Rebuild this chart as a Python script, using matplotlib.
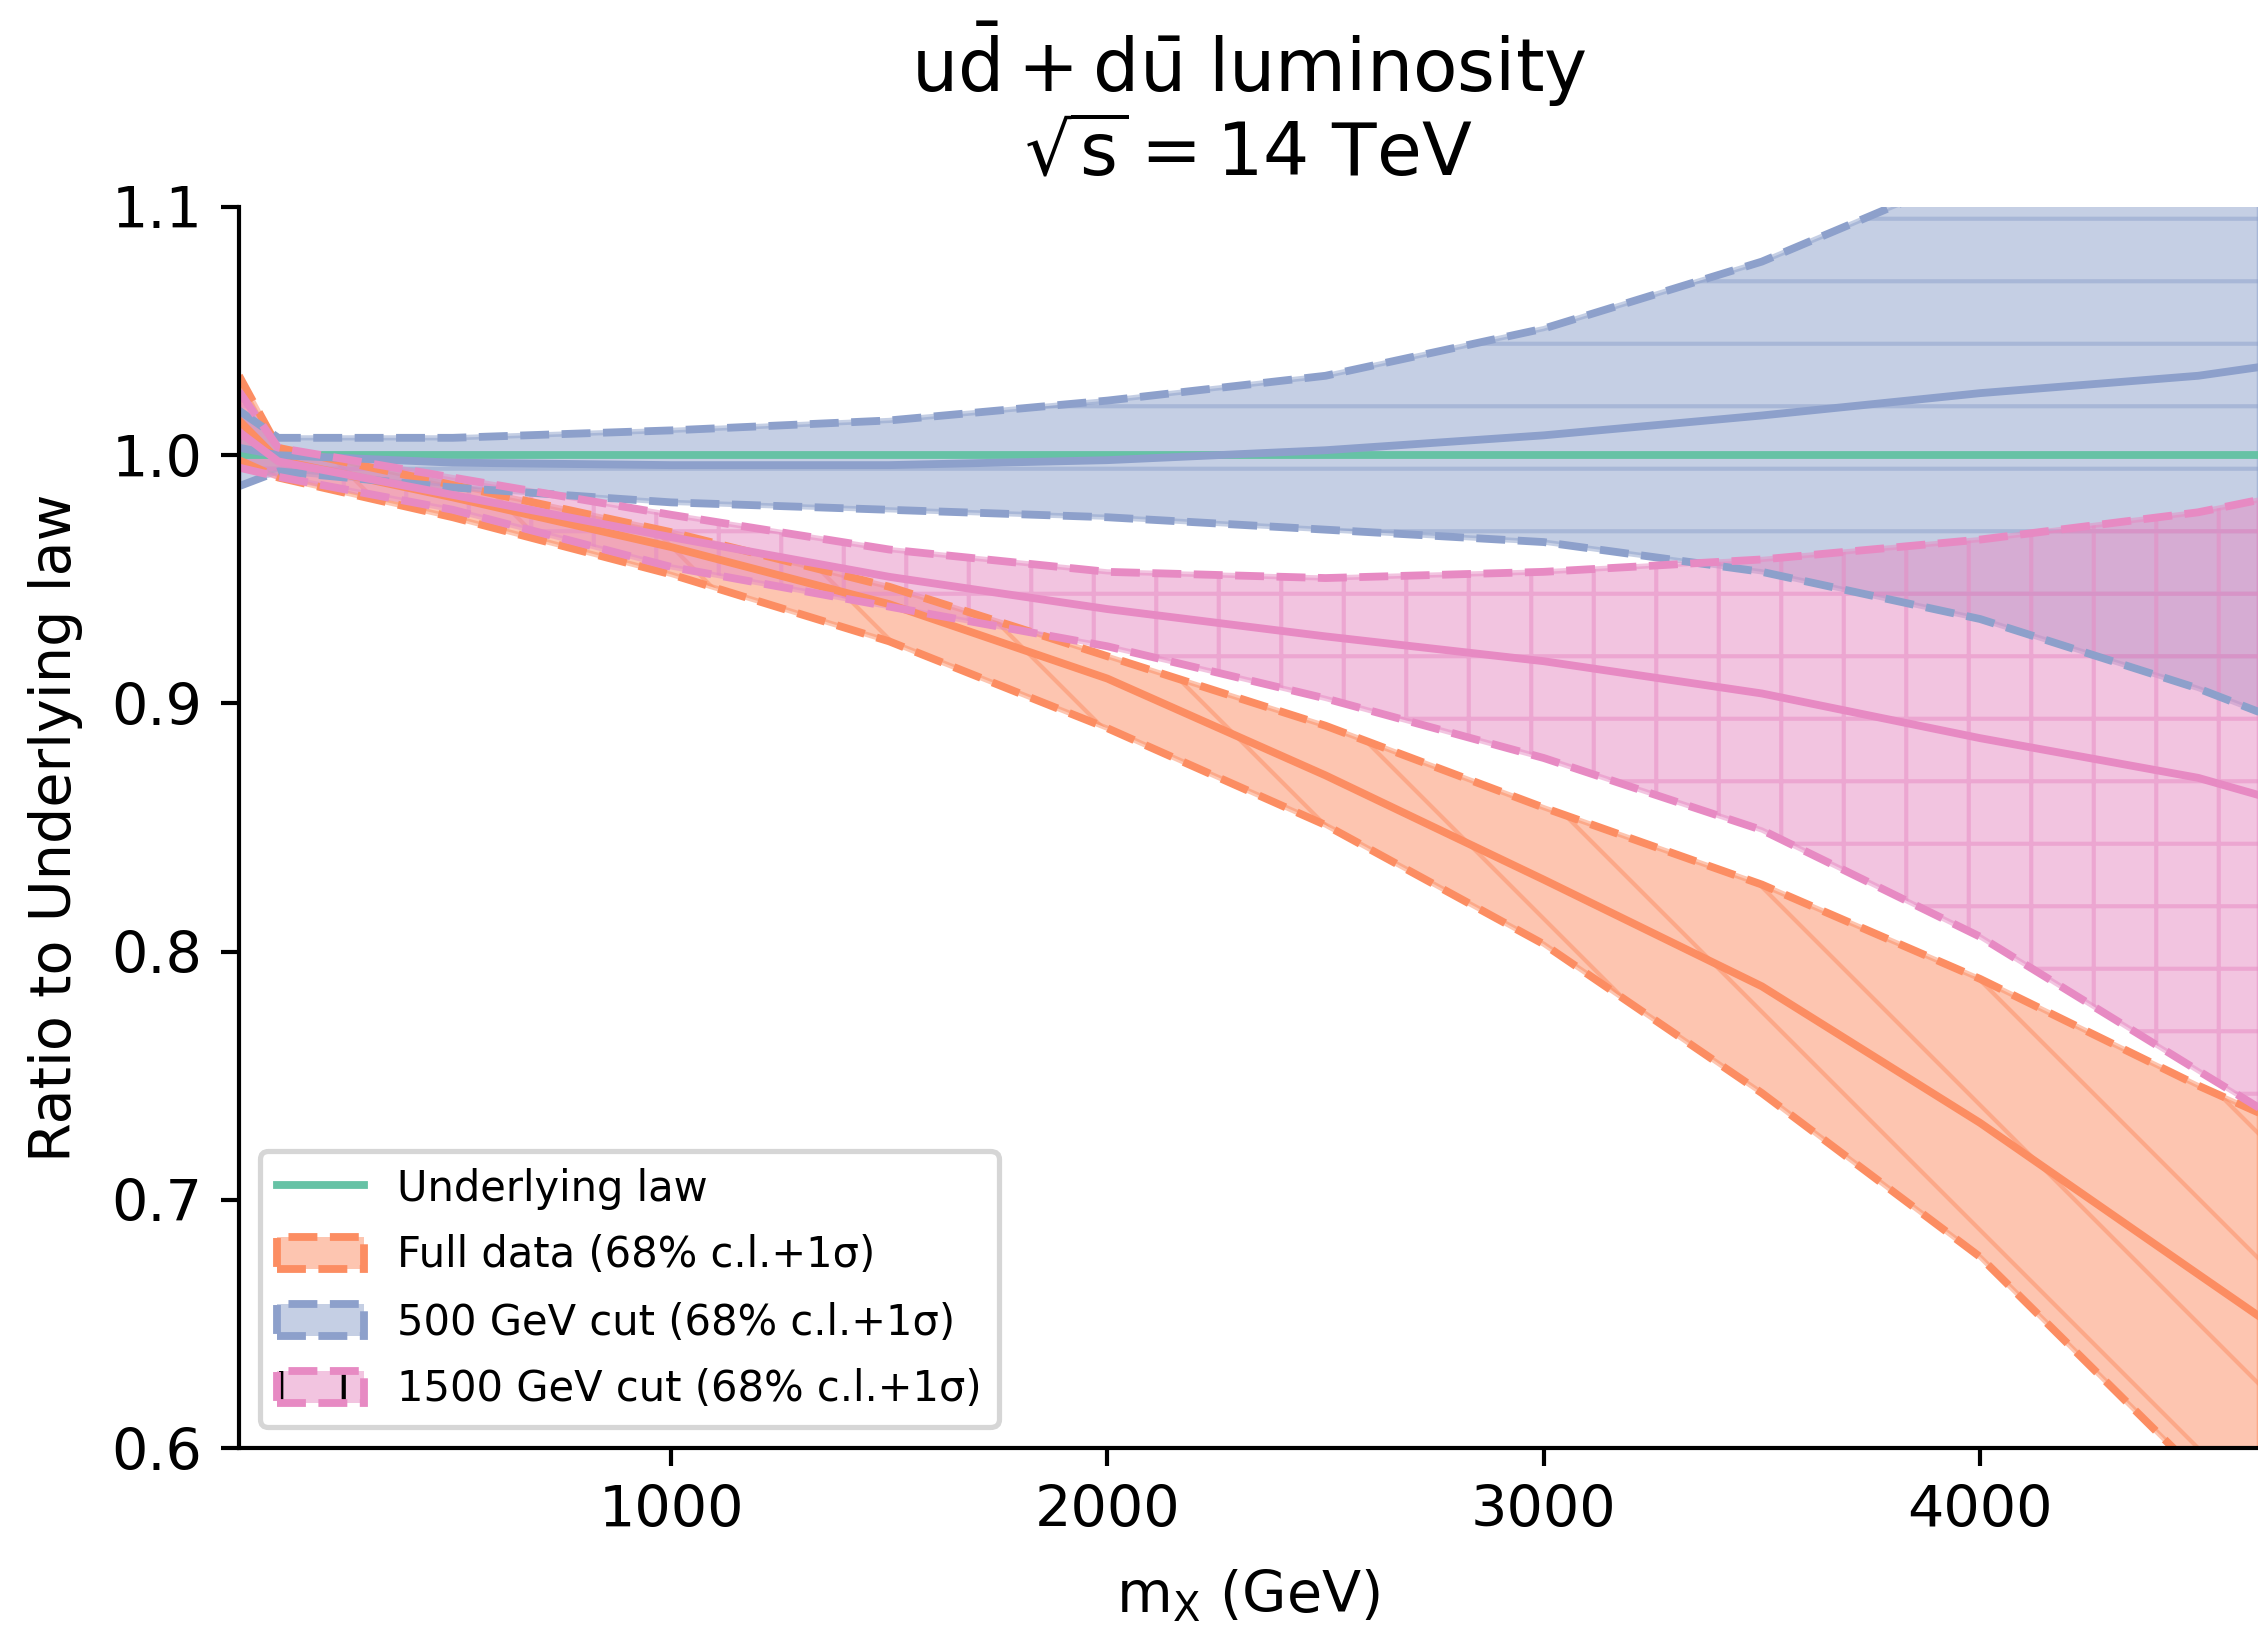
import matplotlib
matplotlib.use("Agg")
import matplotlib.pyplot as plt
from matplotlib.lines import Line2D
from matplotlib.patches import Patch

# ---------------- data ----------------
mx = [10, 100, 500, 1000, 1500, 2000, 2500, 3000, 3500, 4000, 4500, 4640]

underlying = [1.0] * len(mx)

full_central = [1.014, 0.998, 0.983, 0.963, 0.940, 0.910, 0.871, 0.829, 0.786, 0.731, 0.670, 0.653]
full_upper   = [1.032, 1.003, 0.988, 0.969, 0.947, 0.919, 0.891, 0.858, 0.827, 0.789, 0.746, 0.735]
full_lower   = [0.998, 0.991, 0.975, 0.952, 0.925, 0.890, 0.851, 0.803, 0.743, 0.677, 0.590, 0.563]

cut500_central = [1.003, 1.000, 0.997, 0.996, 0.996, 0.998, 1.002, 1.008, 1.016, 1.025, 1.032, 1.0355]
cut500_upper   = [1.018, 1.007, 1.007, 1.010, 1.014, 1.022, 1.032, 1.051, 1.078, 1.115, 1.150, 1.160]
cut500_lower   = [0.9875, 0.9935, 0.987, 0.981, 0.978, 0.975, 0.970, 0.965, 0.953, 0.934, 0.906, 0.8965]

cut1500_central = [1.0094, 0.9975, 0.984, 0.967, 0.951, 0.938, 0.927, 0.917, 0.904, 0.886, 0.870, 0.863]
cut1500_upper   = [1.0257, 1.003, 0.991, 0.976, 0.962, 0.953, 0.9505, 0.953, 0.958, 0.966, 0.977, 0.982]
cut1500_lower   = [0.995, 0.9913, 0.978, 0.955, 0.939, 0.923, 0.902, 0.878, 0.849, 0.806, 0.752, 0.737]

labels = ["Underlying law",
          "Full data (68% c.l.+1σ)",
          "500 GeV cut (68% c.l.+1σ)",
          "1500 GeV cut (68% c.l.+1σ)"]

xticks = [1000, 2000, 3000, 4000]
yticks = [0.6, 0.7, 0.8, 0.9, 1.0, 1.1]

# ---------------- style ----------------
plt.rcParams['font.family'] = ['DejaVu Sans']
plt.rcParams['mathtext.default'] = 'regular'
plt.rcParams['hatch.linewidth'] = 0.8
plt.rcParams['hatch.color'] = 'black'

green, orange, blue, pink = '#66c2a5', '#fc8d62', '#8da0cb', '#e78ac3'

DPI = 375
fig = plt.figure(figsize=(2258 / DPI, 1625 / DPI), dpi=DPI)
ax = fig.add_axes([239 / 2258, 177 / 1625, 2019 / 2258, 1241 / 1625])

lw = 1.5

bands = [
    (orange, '\\', full_central, full_upper, full_lower),
    (blue, '-', cut500_central, cut500_upper, cut500_lower),
    (pink, '+', cut1500_central, cut1500_upper, cut1500_lower),
]

for color, hatch, cen, up, lo in bands:
    ax.fill_between(mx, lo, up, color=color, alpha=0.5, hatch=hatch, linewidth=1.0)

ax.plot(mx, underlying, color=green, lw=lw)

for color, hatch, cen, up, lo in bands:
    ax.plot(mx, up, color=color, lw=lw, ls='--')
    ax.plot(mx, lo, color=color, lw=lw, ls='--')
    ax.plot(mx, cen, color=color, lw=lw)

ax.set_xlim(10, 4637)
ax.set_ylim(0.6, 1.1)
ax.set_xticks(xticks)
ax.set_yticks(yticks)
ax.tick_params(labelsize=11)
for s in ['top', 'right']:
    ax.spines[s].set_visible(False)

ax.set_xlabel(r'$m_X$ (GeV)', fontsize=11, labelpad=5.5)
ax.set_ylabel('Ratio to Underlying law', fontsize=11, labelpad=5.5)
ax.set_title(r'$u\bar{d}+d\bar{u}$ luminosity' + '\n' + r'$\sqrt{s}=14$ TeV', fontsize=14)

# legend handles (fill overlaid with dashed frame)
h0 = Line2D([], [], color=green, lw=lw)
h1 = (Patch(facecolor=orange, alpha=0.5),
      Patch(facecolor='none', edgecolor=orange, linestyle='--', linewidth=lw))
h2 = (Patch(facecolor=blue, alpha=0.5, hatch='-'),
      Patch(facecolor='none', edgecolor=blue, linestyle='--', linewidth=lw))
h3 = (Patch(facecolor=pink, alpha=0.5, hatch='+'),
      Patch(facecolor='none', edgecolor=pink, linestyle='--', linewidth=lw))

ax.legend([h0, h1, h2, h3], labels, loc='lower left', fontsize=8,
          handlelength=2.1, handleheight=0.8, labelspacing=0.6)

fig.savefig('out.png', dpi=DPI)
